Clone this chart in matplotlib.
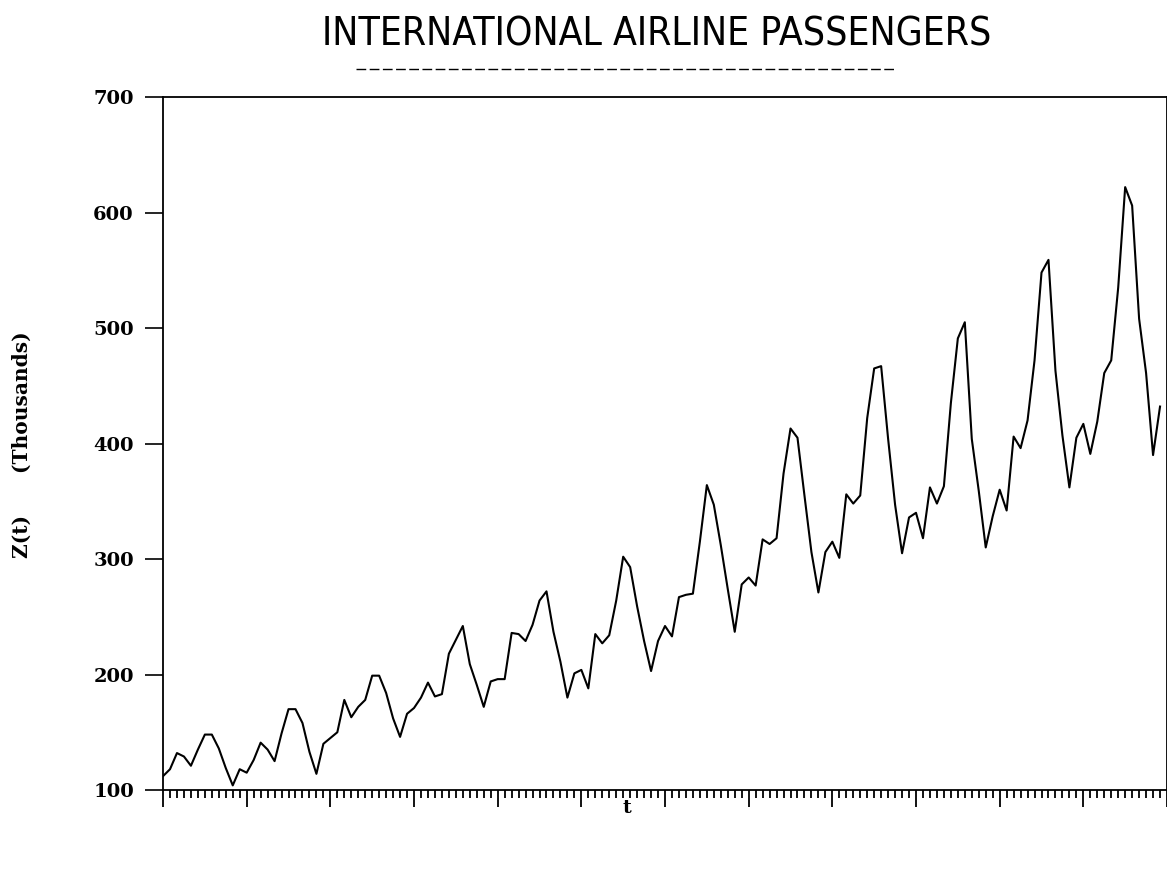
import numpy as np
import matplotlib
matplotlib.use("Agg")
import matplotlib.pyplot as plt
from matplotlib.lines import Line2D
from matplotlib.ticker import MultipleLocator
from matplotlib import font_manager

# monthly totals, 1949-1960 (thousands of passengers)
passengers = [
    112, 118, 132, 129, 121, 135, 148, 148, 136, 119, 104, 118,
    115, 126, 141, 135, 125, 149, 170, 170, 158, 133, 114, 140,
    145, 150, 178, 163, 172, 178, 199, 199, 184, 162, 146, 166,
    171, 180, 193, 181, 183, 218, 230, 242, 209, 191, 172, 194,
    196, 196, 236, 235, 229, 243, 264, 272, 237, 211, 180, 201,
    204, 188, 235, 227, 234, 264, 302, 293, 259, 229, 203, 229,
    242, 233, 267, 269, 270, 315, 364, 347, 312, 274, 237, 278,
    284, 277, 317, 313, 318, 374, 413, 405, 355, 306, 271, 306,
    315, 301, 356, 348, 355, 422, 465, 467, 404, 347, 305, 336,
    340, 318, 362, 348, 363, 435, 491, 505, 404, 359, 310, 337,
    360, 342, 406, 396, 420, 472, 548, 559, 463, 407, 362, 405,
    417, 391, 419, 461, 472, 535, 622, 606, 508, 461, 390, 432,
]
t = np.arange(1, len(passengers) + 1)
yticks = [100, 200, 300, 400, 500, 600, 700]

# narrow face for the title if one is installed
names = {f.name for f in font_manager.fontManager.ttflist}
title_font = "DejaVu Sans"
title_size = 25
for cand in ["Liberation Sans Narrow", "DejaVu Sans Condensed"]:
    if cand in names:
        title_font = cand
        title_size = 29
        break
title_stretch = "normal"
if title_font == "DejaVu Sans" and any(
        f.name == "DejaVu Sans" and f.stretch == "condensed"
        for f in font_manager.fontManager.ttflist):
    title_stretch = "condensed"
    title_size = 28

fig = plt.figure(figsize=(11.67, 8.74), dpi=100)
ax = fig.add_axes([0.1397, 0.0961, 0.8603, 0.7929])

ax.plot(t, passengers, color="black", lw=1.5)
ax.set_xlim(1, 145)
ax.set_ylim(100, 700)

ax.set_yticks(yticks)
# long tick at the start of each year, short tick every month
ax.set_xticks(np.arange(1, 146, 12))
ax.xaxis.set_minor_locator(MultipleLocator(1))
ax.set_xticklabels([])
ax.tick_params(axis="x", which="major", direction="out", length=12, width=1.3)
ax.tick_params(axis="x", which="minor", direction="out", length=6, width=1.3)
ax.tick_params(axis="y", direction="out", length=13, width=1.2, pad=8)
for lab in ax.get_yticklabels():
    lab.set_fontfamily("DejaVu Serif")
    lab.set_fontweight("bold")
    lab.set_fontsize(14)

for sp in ax.spines.values():
    sp.set_linewidth(1.3)

fig.text(0.563, 0.961, "INTERNATIONAL AIRLINE PASSENGERS",
         ha="center", va="center", fontsize=title_size,
         family=title_font, fontstretch=title_stretch)
fig.add_artist(Line2D([0.305, 0.766], [0.921, 0.921], transform=fig.transFigure,
                      color="black", lw=1.0, linestyle=(0, (7, 2.5))))

fig.text(0.019, 0.491, "Z(t)      (Thousands)", rotation=90, ha="center", va="center",
         fontsize=14.5, family="DejaVu Serif", fontweight="bold")
fig.text(0.537, 0.075, "t", ha="center", va="center",
         fontsize=13.5, family="DejaVu Serif", fontweight="bold")

fig.savefig("out.png", dpi=100)
